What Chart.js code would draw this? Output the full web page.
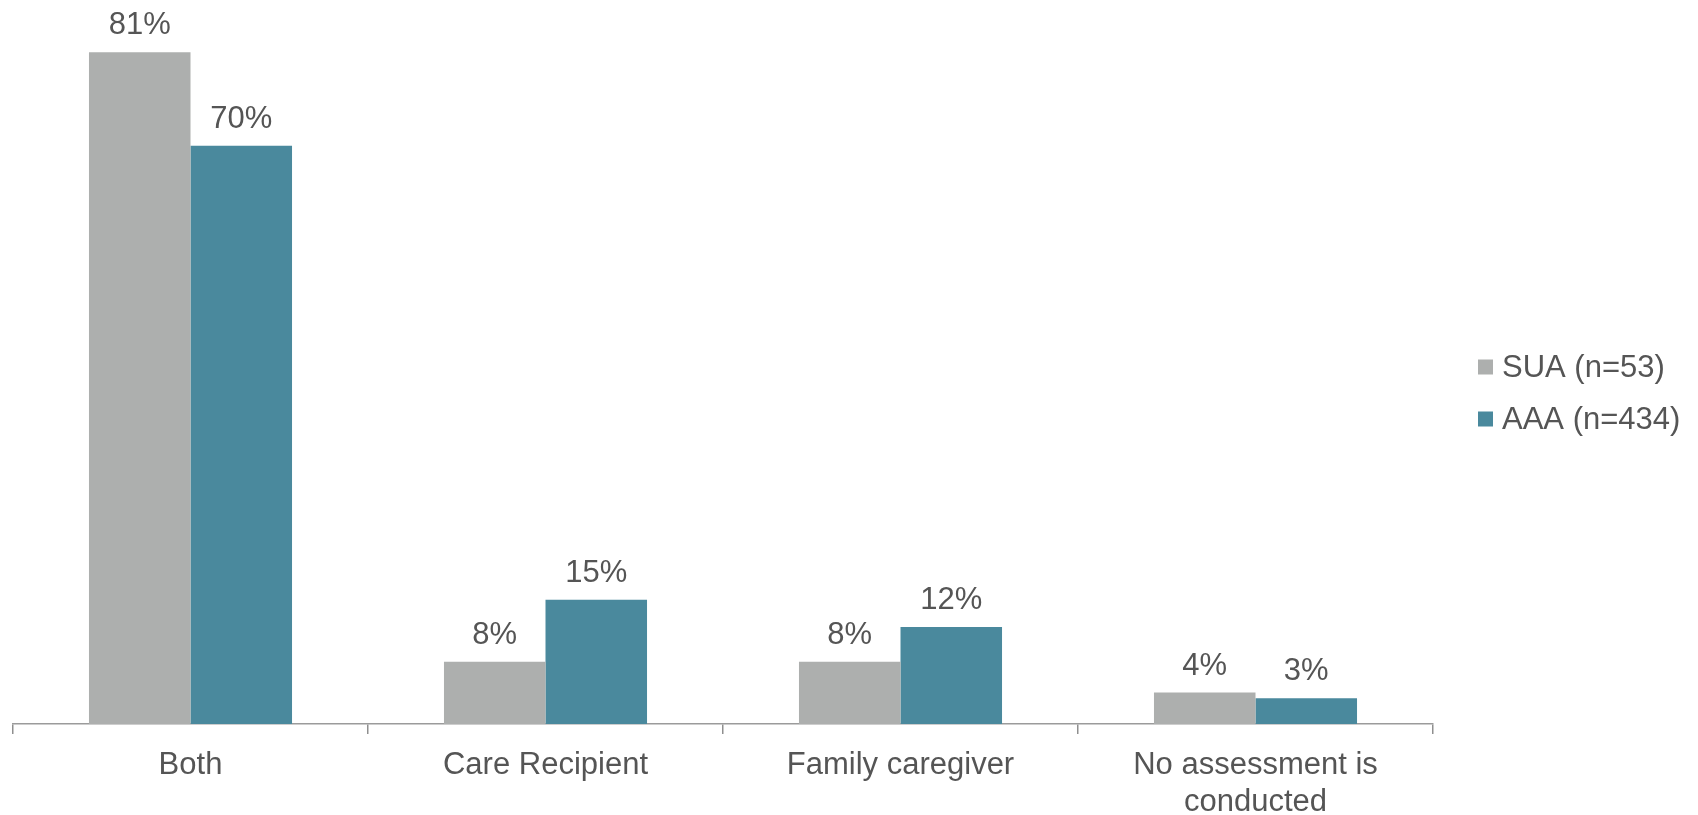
<!DOCTYPE html>
<html>
<head>
<meta charset="utf-8">
<script src="https://cdn.jsdelivr.net/npm/chart.js@4.4.0/dist/chart.umd.min.js"></script>
<style>
    html, body { margin: 0; padding: 0; background: #fff; }
    #wrap { width: 1698px; height: 815px; position: relative; }
</style>
</head>
<body>
<div id="wrap"><canvas id="assessChart"></canvas></div>
<script>
var categories = ["Both", "Care Recipient", "Family caregiver", ["No assessment is", "conducted"]];
var seriesNames = ["SUA (n=53)", "AAA (n=434)"];
var suaValues = [81.1, 7.5, 7.5, 3.8];
var aaaValues = [69.8, 15.0, 11.7, 3.1];
var seriesColors = ["#adafae", "#4a899d"];

var textColor = "#555555";
var fontFamily = "'Liberation Sans', Arial, sans-serif";

// value labels above bars + legend on the right
var labelsPlugin = {
    id: "barLabels",
    afterDatasetsDraw: function (chart) {
        var ctx = chart.ctx;
        ctx.save();
        ctx.fillStyle = textColor;
        ctx.font = "31px " + fontFamily;
        ctx.textAlign = "center";
        ctx.textBaseline = "alphabetic";
        chart.data.datasets.forEach(function (ds, i) {
            chart.getDatasetMeta(i).data.forEach(function (bar, j) {
                ctx.fillText(Math.round(ds.data[j]) + "%", bar.x, bar.y - 18);
            });
        });

        // legend
        ctx.textAlign = "left";
        ctx.textBaseline = "middle";
        chart.data.datasets.forEach(function (ds, i) {
            var cy = 367 + i * 52;
            ctx.fillStyle = ds.backgroundColor;
            ctx.fillRect(1478, cy - 7.5, 15, 15);
            ctx.fillStyle = textColor;
            ctx.fillText(ds.label, 1502, cy + 1);
        });
        ctx.restore();
    }
};

const ctx = document.getElementById('assessChart').getContext('2d');

var myChart = new Chart(ctx, {
    type: "bar",
    data: {
        labels: categories,
        datasets: [
            {
                label: seriesNames[0],
                data: suaValues,
                backgroundColor: seriesColors[0],
            },
            {
                label: seriesNames[1],
                data: aaaValues,
                backgroundColor: seriesColors[1],
            },
        ],
    },
    options: {
        responsive: true,
        maintainAspectRatio: false,
        animation: false,
        categoryPercentage: 0.572,
        barPercentage: 1,
        layout: {
            padding: { left: 13, right: 265, top: 0, bottom: 0 }
        },
        plugins: {
            legend: { display: false },
            tooltip: { enabled: false },
        },
        scales: {
            x: {
                afterFit: function (scale) { scale.height = 91; },
                grid: {
                    drawOnChartArea: false,
                    drawTicks: true,
                    tickLength: 10,
                    color: "#8f8f8f",
                    lineWidth: 1.5,
                },
                border: { display: true, color: "#9b9b9b", width: 1.5 },
                ticks: {
                    color: textColor,
                    padding: 13,
                    maxRotation: 0,
                    autoSkip: false,
                    font: { family: fontFamily, size: 31, lineHeight: 1.2 },
                },
            },
            y: {
                display: false,
                min: 0,
                max: 87.4,
            },
        },
    },
    plugins: [labelsPlugin],
});
</script>
</body>
</html>
